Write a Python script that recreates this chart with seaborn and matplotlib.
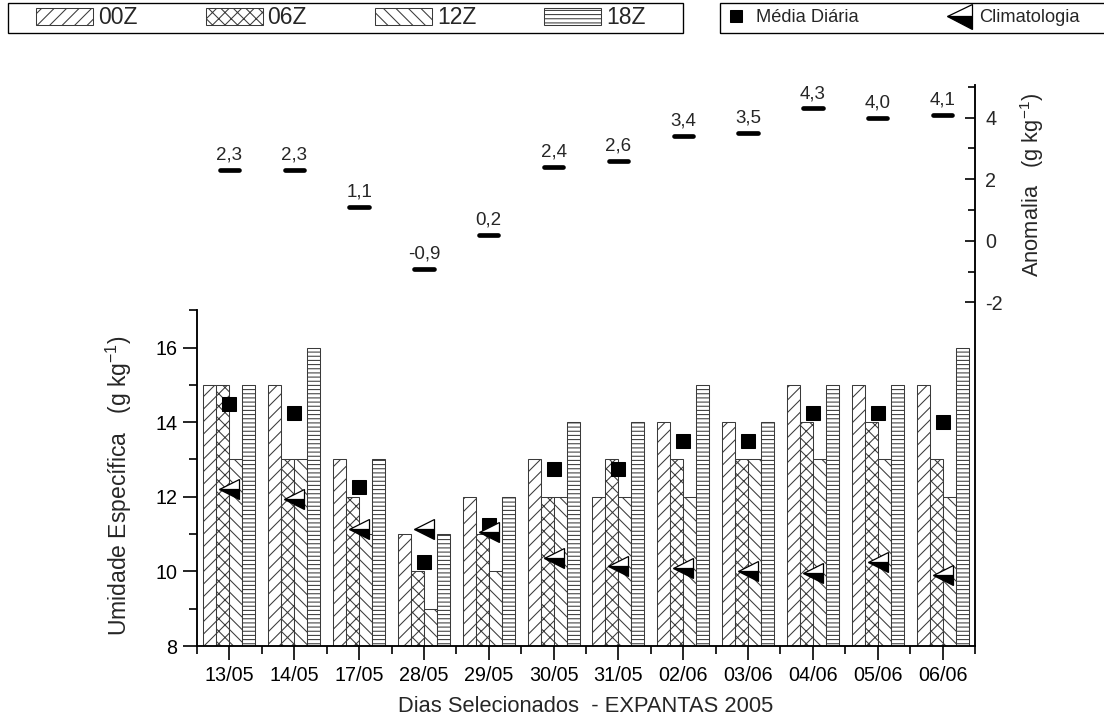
import numpy as np
import pandas as pd
import matplotlib
matplotlib.use("Agg")
import matplotlib.pyplot as plt
import seaborn as sns
from matplotlib.patches import Patch, Rectangle
from matplotlib.lines import Line2D
from matplotlib import font_manager

# ---- data -------------------------------------------------------------
dias = ["13/05", "14/05", "17/05", "28/05", "29/05", "30/05",
        "31/05", "02/06", "03/06", "04/06", "05/06", "06/06"]
horarios = ["00Z", "06Z", "12Z", "18Z"]
q_00z = [15, 15, 13, 11, 12, 13, 12, 14, 14, 15, 15, 15]
q_06z = [15, 13, 12, 10, 11, 12, 13, 13, 13, 14, 14, 13]
q_12z = [13, 13, 11, 9, 10, 12, 12, 12, 13, 13, 13, 12]
q_18z = [15, 16, 13, 11, 12, 14, 14, 15, 14, 15, 15, 16]
media_diaria = [14.5, 14.25, 12.25, 10.25, 11.25, 12.75,
                12.75, 13.5, 13.5, 14.25, 14.25, 14.0]
climatologia = [12.2, 11.95, 11.15, 11.15, 11.05, 10.35,
                10.15, 10.1, 10.0, 9.95, 10.25, 9.9]
anomalia = [2.3, 2.3, 1.1, -0.9, 0.2, 2.4, 2.6, 3.4, 3.5, 4.3, 4.0, 4.1]

valores = {"00Z": q_00z, "06Z": q_06z, "12Z": q_12z, "18Z": q_18z}
df = pd.DataFrame(
    [(d, h, v) for h in horarios for d, v in zip(dias, valores[h])],
    columns=["dia", "hora", "q"],
)

# ---- style ------------------------------------------------------------
sns.set_style("ticks")
names = {f.name for f in font_manager.fontManager.ttflist}
base = "Liberation Sans" if "Liberation Sans" in names else "DejaVu Sans"
narrow = "Liberation Sans Narrow" if "Liberation Sans Narrow" in names else base
plt.rcParams["font.family"] = [base, "DejaVu Sans"]
plt.rcParams["mathtext.default"] = "regular"
plt.rcParams["axes.unicode_minus"] = False
plt.rcParams["hatch.linewidth"] = 1.0

hatches = ["//", "xx", "\\\\", "---"]
edge = "#3a3a3a"
fs_tick = 19
fs_label = 21

W, H = 1104, 725
fig = plt.figure(figsize=(W / 75, H / 75), dpi=75)
ax = fig.add_axes([197 / W, 1 - 646 / H, 778 / W, 561 / H])

sns.barplot(data=df, x="dia", y="q", hue="hora", order=dias,
            hue_order=horarios, palette=["white"] * 4, saturation=1,
            width=0.8, gap=0, edgecolor=edge, linewidth=1.0,
            errorbar=None, legend=False, ax=ax)
for cont, h in zip(ax.containers, hatches):
    for bar in cont:
        bar.set_hatch(h)

x = np.arange(len(dias))
ax.plot(x, media_diaria, ls="none", marker="s", ms=14, color="black",
        zorder=5)
ax.plot(x, climatologia, ls="none", marker="<", ms=20, fillstyle="bottom",
        markerfacecolor="black", markerfacecoloralt="white",
        markeredgecolor="black", markeredgewidth=1.2, zorder=6)

ax.set_xlim(-0.5, len(dias) - 0.5)
ax.set_ylim(8, 23.04)
ax.set_yticks([8, 10, 12, 14, 16])
ax.set_yticks([9, 11, 13, 15, 17], minor=True)
ax.set_xticks(x)
ax.set_xticklabels(dias)
ax.set_xticks(np.arange(-0.5, len(dias)), minor=True)
ax.tick_params(axis="both", which="major", direction="out", length=13,
               width=1.6, labelsize=fs_tick, pad=6, color="black",
               labelcolor="black")
ax.tick_params(axis="both", which="minor", direction="out", length=8,
               width=1.6, color="black")
for s in ["top", "right"]:
    ax.spines[s].set_visible(False)
ax.spines["left"].set_bounds(8, 17)
for s in ["left", "bottom"]:
    ax.spines[s].set_linewidth(1.8)
    ax.spines[s].set_color("black")

ax.set_xlabel("Dias Selecionados  - EXPANTAS 2005", fontsize=fs_label)
ax.xaxis.set_label_coords(0.5, -0.09)
ax.set_ylabel("Umidade Específica   (g kg$^{-1}$)", fontsize=22)
ax.yaxis.set_label_coords(-0.081, 0.286)

# ---- anomaly axis -----------------------------------------------------
ax2 = ax.twinx()
ax2.set_ylim(-13.15, 5.06)
ax2.set_xlim(ax.get_xlim())
segs = ax2.hlines(anomalia, x - 0.15, x + 0.15, colors="black", lw=4.5)
segs.set_capstyle("round")
for xi, v in zip(x, anomalia):
    ax2.annotate(f"{v:.1f}".replace(".", ","), (xi, v), xytext=(0, 6),
                 textcoords="offset points", ha="center", va="bottom",
                 fontsize=18)
ax2.set_yticks([-2, 0, 2, 4])
ax2.set_yticks([-1, 1, 3, 5], minor=True)
ax2.tick_params(axis="y", which="major", direction="in", length=10,
                width=1.6, labelsize=fs_tick, pad=10, color="black")
ax2.tick_params(axis="y", which="minor", direction="in", length=7,
                width=1.6, color="black")
for s in ["top", "left", "bottom"]:
    ax2.spines[s].set_visible(False)
ax2.spines["right"].set_linewidth(1.8)
ax2.spines["right"].set_color("black")
ax2.set_ylabel("Anomalia   (g kg$^{-1}$)", fontsize=fs_label)
ax2.yaxis.set_label_coords(1.055, 0.822)

# ---- legends ----------------------------------------------------------
def box(x0, y0, x1, y1):
    fig.patches.append(Rectangle((x0 / W, 1 - y1 / H), (x1 - x0) / W,
                                 (y1 - y0) / H, transform=fig.transFigure,
                                 facecolor="none", edgecolor="black",
                                 lw=1.3))

box(8, 3, 683, 33)
box(720, 3, 1115, 33)

fs_leg1 = 22
px1 = fs_leg1 * 75 / 72
h1 = [Patch(facecolor="white", edgecolor=edge, hatch=h, lw=1.0)
      for h in hatches]
fig.legend(h1, horarios, loc="center left",
           bbox_to_anchor=(36 / W, 1 - 18 / H), ncol=4, frameon=False,
           borderpad=0, borderaxespad=0,
           handlelength=57 / px1, handleheight=18 / px1,
           handletextpad=5 / px1, columnspacing=68 / px1,
           prop={"family": narrow, "size": fs_leg1})

fs_leg2 = 17.5
px2 = fs_leg2 * 75 / 72
h2 = [Line2D([], [], ls="none", marker="s", ms=12, color="black"),
      Line2D([], [], ls="none", marker="<", ms=24, fillstyle="bottom",
             markerfacecolor="black", markerfacecoloralt="white",
             markeredgecolor="black", markeredgewidth=1.2)]
fig.legend(h2, ["Média Diária", "Climatologia"], loc="center left",
           bbox_to_anchor=(723 / W, 1 - 18 / H), ncol=2, frameon=False,
           borderpad=0, borderaxespad=0,
           handlelength=25 / px2, handletextpad=8 / px2,
           columnspacing=88 / px2, fontsize=fs_leg2)

fig.savefig("out.png", dpi=75)
